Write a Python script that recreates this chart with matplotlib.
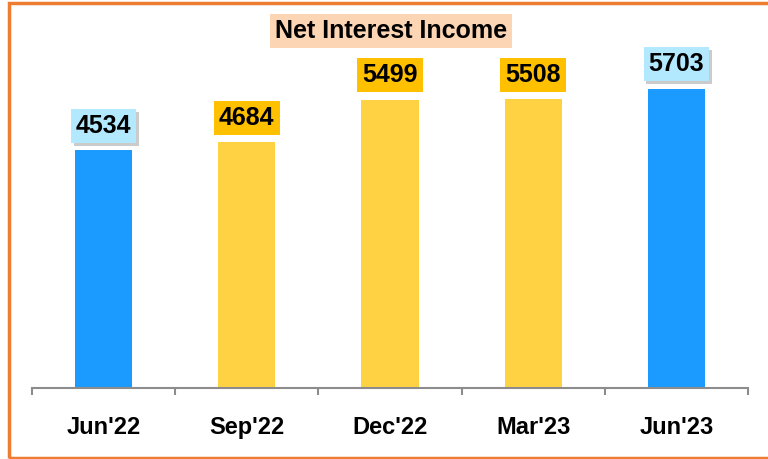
import matplotlib
matplotlib.use("Agg")
import matplotlib.pyplot as plt
import matplotlib.patheffects as pe
from matplotlib.patches import Rectangle

categories = ["Jun'22", "Sep'22", "Dec'22", "Mar'23", "Jun'23"]
values = [4534, 4684, 5499, 5508, 5703]
title = "Net Interest Income"

bar_colors = ["#1B9BFF", "#FFD243", "#FFD243", "#FFD243", "#1B9BFF"]
label_colors = ["#B3E9FF", "#FFC000", "#FFC000", "#FFC000", "#B3E9FF"]
label_shadow = [True, False, False, False, True]

plt.rcParams['font.family'] = ['Liberation Sans', 'DejaVu Sans']

W, H = 768, 459
fig = plt.figure(figsize=(W / 100, H / 100), dpi=100)
ax = fig.add_axes([32 / W, (H - 388) / H, (748 - 32) / W, (388 - 21) / H])

x = list(range(len(categories)))
ax.bar(x, values, width=0.4, color=bar_colors, zorder=2)
ax.set_xlim(-0.5, len(categories) - 0.5)
ax.set_ylim(0, 7000)

for xi, v, lc, sh in zip(x, values, label_colors, label_shadow):
    t = ax.annotate(str(v), xy=(xi, v), xytext=(0, 9), textcoords='offset points',
                    ha='center', va='bottom', fontsize=18, fontweight='bold',
                    bbox=dict(boxstyle='square,pad=0.2', facecolor=lc, edgecolor='none'),
                    zorder=3)
    if sh:
        t.get_bbox_patch().set_path_effects([
            pe.withSimplePatchShadow(offset=(2, -2), shadow_rgbFace='#999999', alpha=0.5),
            pe.Normal()])

for s in ['top', 'right', 'left']:
    ax.spines[s].set_visible(False)
ax.spines['bottom'].set_color('#8C8C8C')
ax.spines['bottom'].set_linewidth(1.5)
ax.set_yticks([])

bounds = [i - 0.5 for i in range(len(categories) + 1)]
ax.set_xticks(bounds)
ax.set_xticklabels([''] * len(bounds))
ax.tick_params(axis='x', which='major', direction='out', length=5, width=1.5, color='#8C8C8C')
ax.set_xticks(x, minor=True)
ax.set_xticklabels(categories, minor=True, fontsize=17, fontweight='bold')
ax.tick_params(axis='x', which='minor', length=0, pad=20)

fig.text(391 / W, 1 - 31 / H, title, ha='center', va='center', fontsize=18,
         fontweight='bold',
         bbox=dict(boxstyle='square,pad=0.2', facecolor='#FCD5B5', edgecolor='none'))

fig.patches.append(Rectangle((9 / W, 1.5 / H), 1.2, (H - 4) / H, transform=fig.transFigure,
                             fill=False, edgecolor='#ED7D31', linewidth=2.5))

fig.savefig('out.png', dpi=100)
